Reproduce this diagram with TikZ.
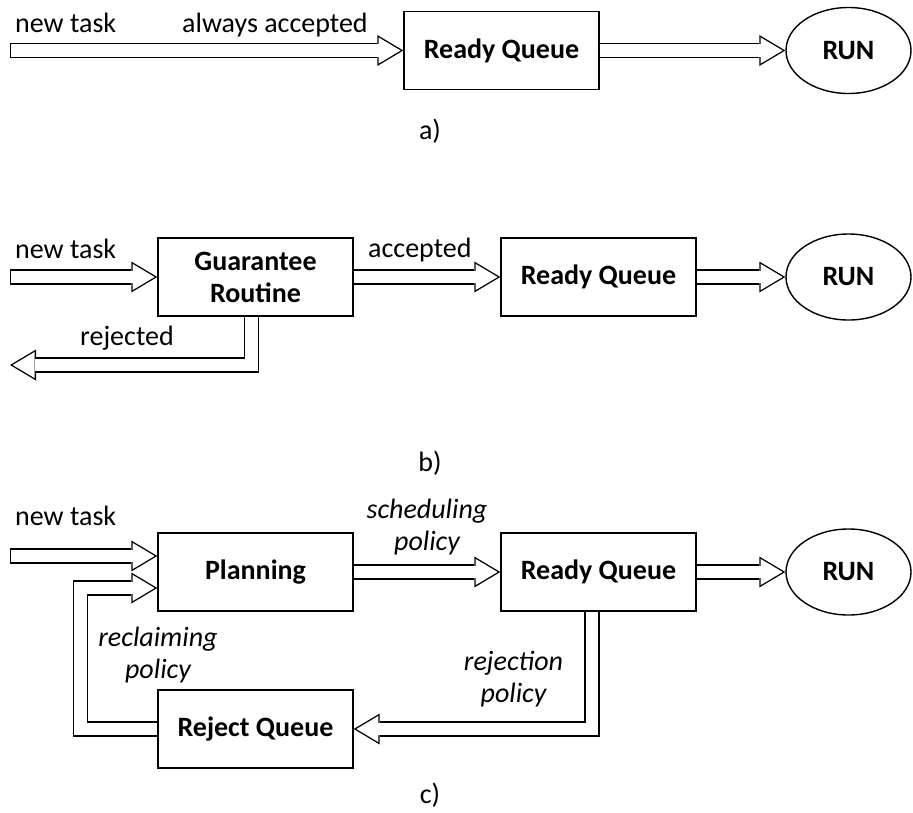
\documentclass[tikz,border=0pt]{standalone}
\usepackage{fontspec}
\setmainfont{Carlito}
\usetikzlibrary{arrows.meta, shapes.geometric}

\newcommand{\figsize}{\fontsize{28pt}{32pt}\selectfont}

\tikzset{
  box/.style={draw, line width=1.4pt, minimum width=195pt, minimum height=78pt,
              font=\figsize\bfseries, align=center},
  runnode/.style={draw, ellipse, line width=1.4pt, minimum width=125pt,
                  minimum height=86pt, font=\figsize\bfseries},
  lbl/.style={anchor=base west, inner sep=0pt},
  pol/.style={anchor=base, inner sep=0pt, font=\figsize\itshape, align=center},
  % hollow block arrows: black body, then white inside
  arrowout/.style={line width=15.4pt, black,
                   -{Triangle[length=26pt, width=31pt, line width=0pt]}},
  arrowin/.style={line width=12.6pt, white, shorten >=2.7pt,
                  -{Triangle[length=21.9pt, width=26.1pt, line width=0pt]}},
}

\newcommand{\hollowarrow}[2][]{%
  \draw[arrowout] #2;
  \draw[arrowin,#1] #2;
}

\begin{document}
\begin{tikzpicture}[x=1pt, y=-1pt, font=\figsize]
  \useasboundingbox (0,0) rectangle (913,812);

  % a)
  \node[box] (rqa) at (501.5,50.5) {Ready Queue};
  \node[runnode] (runa) at (848.5,50.5) {RUN};
  \coordinate (nta) at (10,50.5);
  \hollowarrow[shorten <=1.4pt]{(nta) -- (rqa.west)}
  \hollowarrow{(rqa.east) -- (runa.west)}
  \node[lbl] (ntlbla) at (15,32) {new task};
  \node[lbl] (acclbla) at (182,32) {always accepted};
  \node (capa) at (430,131) {a)};

  % b)
  \node[box] (gr) at (255.5,277) {Guarantee\\Routine};
  \node[box] (rqb) at (598.5,277) {Ready Queue};
  \node[runnode] (runb) at (848.5,277) {RUN};
  \coordinate (ntb) at (10,277);
  \coordinate (rjb) at (10,365);
  \coordinate (dnb) at (251.5,365);
  \hollowarrow[shorten <=1.4pt]{(ntb) -- (gr.west)}
  \hollowarrow{(gr.east) -- (rqb.west)}
  \hollowarrow{(rqb.east) -- (runb.west)}
  \hollowarrow{(gr.south -| dnb) -- (dnb) -- (rjb)}
  \node[lbl] (ntlblb) at (15,258) {new task};
  \node[lbl] (acclblb) at (368,257) {accepted};
  \node[lbl] (rjlblb) at (80,345) {rejected};
  \node (capb) at (430,463) {b)};

  % c)
  \node[box] (plan) at (255.5,572) {Planning};
  \node[box] (rqc) at (598.5,572) {Ready Queue};
  \node[runnode] (runc) at (848.5,572) {RUN};
  \node[box] (rej) at (255.5,729) {Reject Queue};
  \coordinate (ntc) at (10,556);
  \coordinate (lpc) at (80.5,588);
  \coordinate (dnc) at (592,730);
  \hollowarrow[shorten <=1.4pt]{(ntc) -- (ntc -| plan.west)}
  \hollowarrow{(plan.east) -- (rqc.west)}
  \hollowarrow{(rqc.east) -- (runc.west)}
  \hollowarrow{(rqc.south -| dnc) |- (rej.east)}
  \hollowarrow{(rej.west) -| (lpc) -- (lpc -| plan.west)}
  \node[lbl] (ntlblc) at (15,525) {new task};
  \node[pol] (schlbl) at (427,550) {scheduling\\policy};
  \node[pol] (reclbl) at (158,678) {reclaiming\\policy};
  \node[pol] (rejlbl) at (513.5,702) {rejection\\policy};
  \node (capc) at (430,795) {c)};
\end{tikzpicture}
\end{document}
